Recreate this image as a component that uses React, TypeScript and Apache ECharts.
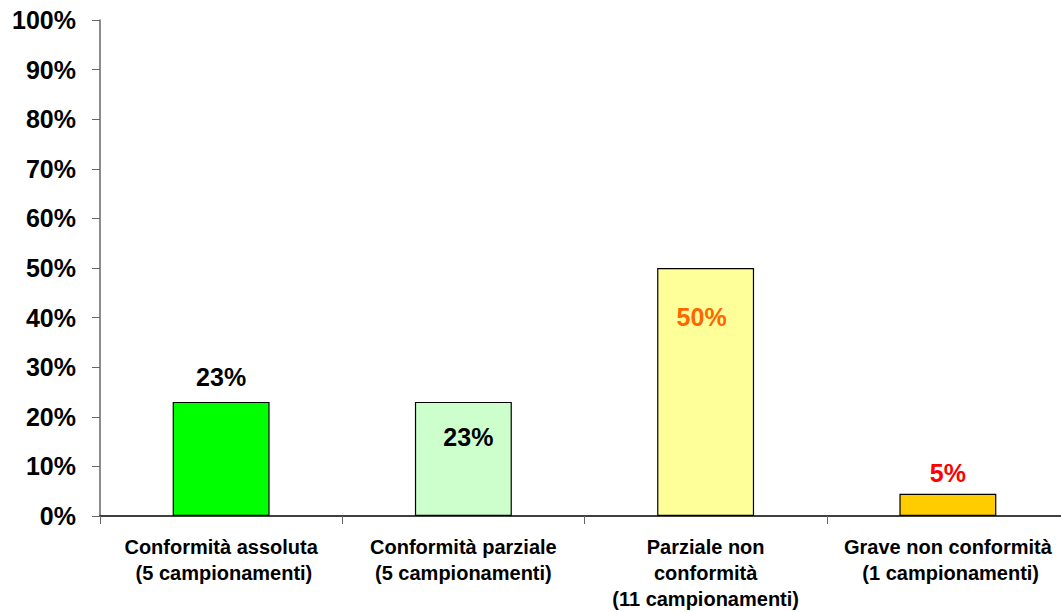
import React, { useEffect, useRef } from "react";
import * as echarts from "echarts";

const categories = [
  "Conformità assoluta\n (5 campionamenti)",
  "Conformità parziale\n(5 campionamenti)",
  "Parziale non\nconformità\n(11 campionamenti)",
  "Grave non conformità\n (1 campionamenti)",
];
const values = [23, 23, 50, 4.5];
const valueLabels = ["23%", "23%", "50%", "5%"];
const barColors = ["#00FF00", "#CCFFCC", "#FFFF99", "#FFCC00"];
const labelColors = ["#000000", "#000000", "#FF6600", "#FF0000"];
const yTicks = { min: 0, max: 100, interval: 10 };

const FONT = "'Liberation Sans', Arial, sans-serif";

export default function App() {
  const ref = useRef<HTMLDivElement>(null);
  useEffect(() => {
    if (!ref.current) return;
    const chart = echarts.init(ref.current, undefined, { renderer: "svg" });
    const labelCfg = [
      { position: "top", distance: 12, offset: [0, 0] },
      { position: "insideTop", distance: 23, offset: [5, 0] },
      { position: "insideTop", distance: 36, offset: [-4, 0] },
      { position: "top", distance: 8, offset: [0, 0] },
    ];
    chart.setOption({
      animation: false,
      grid: { left: 100, right: 0, top: 20, bottom: 93, containLabel: false },
      xAxis: {
        type: "category",
        data: categories,
        boundaryGap: true,
        axisLine: { lineStyle: { color: "#000", width: 1.5 } },
        axisTick: { show: true, length: 8, lineStyle: { color: "#666" } },
        axisLabel: {
          interval: 0,
          margin: 18,
          fontFamily: FONT,
          fontWeight: "bold",
          fontSize: 20,
          lineHeight: 26,
          color: "#000",
        },
      },
      yAxis: {
        type: "value",
        min: yTicks.min,
        max: yTicks.max,
        interval: yTicks.interval,
        splitLine: { show: false },
        axisLine: { show: true, lineStyle: { color: "#666", width: 1.5 } },
        axisTick: { show: true, length: 8, lineStyle: { color: "#666" } },
        axisLabel: {
          formatter: "{value}%",
          margin: 24,
          fontFamily: FONT,
          fontWeight: "bold",
          fontSize: 25,
          color: "#000",
        },
      },
      series: [
        {
          type: "bar",
          barWidth: "40%",
          data: values.map((v, i) => ({
            value: v,
            itemStyle: { color: barColors[i], borderColor: "#000", borderWidth: 1.2 },
            label: {
              show: true,
              formatter: valueLabels[i],
              position: labelCfg[i].position,
              distance: labelCfg[i].distance,
              offset: labelCfg[i].offset,
              color: labelColors[i],
              fontFamily: FONT,
              fontWeight: "bold",
              fontSize: 25,
            },
          })),
        },
      ],
    });
    return () => chart.dispose();
  }, []);
  return (
    <div
      style={{
        position: "fixed",
        left: 0,
        top: 0,
        width: 1061,
        height: 612,
        overflow: "hidden",
        background: "#fff",
      }}
    >
      <div ref={ref} style={{ width: 1069, height: 612 }} />
    </div>
  );
}
